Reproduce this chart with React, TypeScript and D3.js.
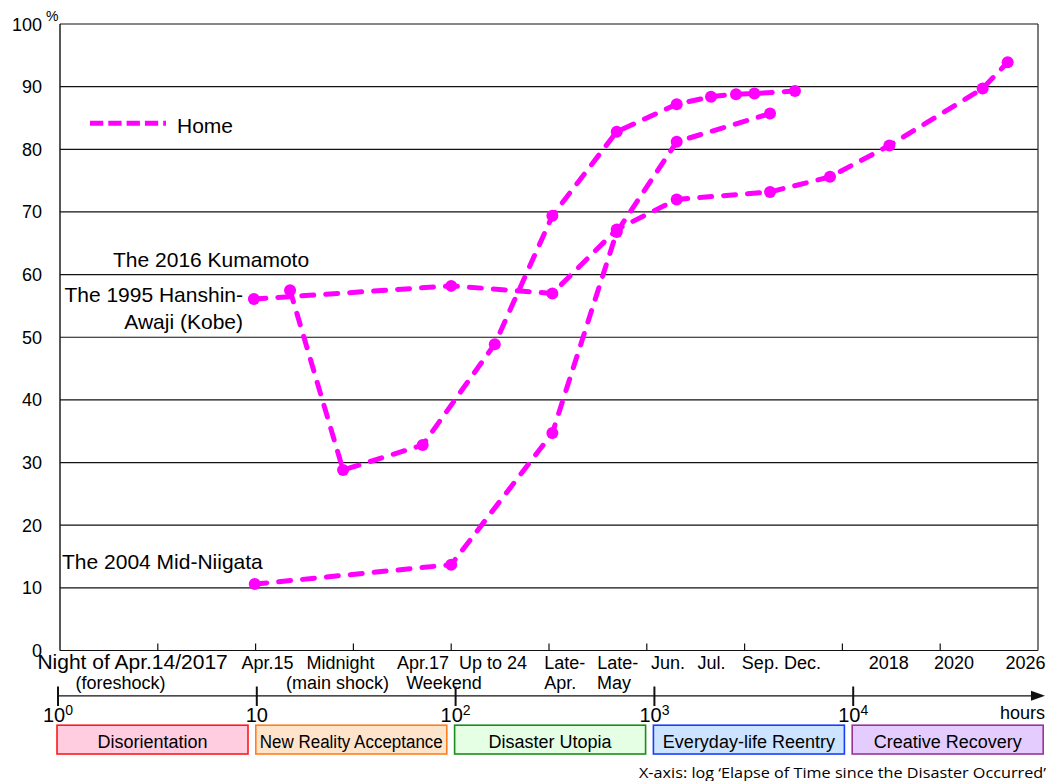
import React from "react";
import * as d3 from "d3";

// ---------- data ----------
const yTickValues = [0, 10, 20, 30, 40, 50, 60, 70, 80, 90, 100];

// hours since the disaster (x, log) and % living at home (y)
const kumamotoHours = [15, 28, 71.5, 167, 329, 702, 1422, 2129, 2858, 3548, 5723];
const kumamotoHome = [57.5, 28.8, 32.8, 48.9, 69.4, 82.8, 87.2, 88.4, 88.8, 88.9, 89.3];

const hanshinHours = [9.8, 100, 329, 702, 1422, 4266, 8642, 17378, 52130, 69980];
const hanshinHome = [56.1, 58.2, 57.0, 67.2, 72.0, 73.2, 75.6, 80.6, 89.7, 93.9];

const niigataHours = [9.9, 100, 329, 702, 1422, 4266];
const niigataHome = [10.6, 13.7, 34.7, 66.8, 81.2, 85.7];

// time labels under the plot: [text, hours at label centre, row]
const timeLabels: [string, number, number][] = [
  ["(foreshock)", 2.04, 1],
  ["Apr.15", 11.5, 0],
  ["Midnight", 27.2, 0],
  ["(main shock)", 26.2, 1],
  ["Apr.17", 71.8, 0],
  ["Weekend", 91.9, 1],
  ["Up to 24", 163.6, 0],
  ["Late-", 381, 0],
  ["Apr.", 361, 1],
  ["Late-", 710, 0],
  ["May", 680, 1],
  ["Jun.", 1283, 0],
  ["Jul.", 2142, 0],
  ["Sep.", 3808, 0],
  ["Dec.", 6255, 0],
  ["2018", 17270, 0],
  ["2020", 37200, 0],
  ["2026", 86300, 0],
];
const foreshockLabel: [string, number] = ["Night of Apr.14/2017", 2.35];

const decadeExponents = [0, 1, 2, 3, 4];
const phaseLabels = [
  "Disorientation",
  "New Reality Acceptance",
  "Disaster Utopia",
  "Everyday-life Reentry",
  "Creative Recovery",
];

// ---------- styles ----------
const phaseStroke = ["#ff1a1a", "#ff7f1e", "#1a8c1a", "#1a3cff", "#993399"];
const phaseFill = ["#ffcce0", "#ffe4cc", "#e4ffe4", "#cce4ff", "#e4ccff"];
const MAGENTA = "#ff00ff";
const FONT = "'Liberation Sans', Arial, sans-serif";

const W = 1050;
const H = 781;
const PL = 60;
const PR = 1038;
const PT = 24;
const PB = 650.5;

export default function App() {
  const x = d3.scaleLog().domain([1, 1e5]).range([PL, PR]);
  const y = d3.scaleLinear().domain([0, 100]).range([PB, PT]);
  const xLow = d3.scaleLog().domain([1, 1e5]).range([58, 1052]);

  const line = d3
    .line<[number, number]>()
    .x((d) => x(d[0]))
    .y((d) => y(d[1]));

  const series = [
    d3.zip(kumamotoHours, kumamotoHome) as [number, number][],
    d3.zip(hanshinHours, hanshinHome) as [number, number][],
    d3.zip(niigataHours, niigataHome) as [number, number][],
  ];

  const halfDecades = d3.range(1, 10).map((k) => Math.pow(10, k / 2));
  const axisY = 695.8;

  return (
    <svg
      width={W}
      height={H}
      viewBox={`0 0 ${W} ${H}`}
      style={{ position: "absolute", left: 0, top: 0, background: "#fff" }}
      fontFamily={FONT}
    >
      <rect x={0} y={0} width={W} height={H} fill="#fff" />

      {/* grid */}
      {yTickValues.map((v) => (
        <line key={"g" + v} x1={PL} x2={PR} y1={y(v)} y2={y(v)} stroke="#111" strokeWidth={1.2} />
      ))}
      <line x1={PL} x2={PL} y1={PT} y2={PB} stroke="#111" strokeWidth={1.4} />
      <line x1={PR} x2={PR} y1={PT} y2={PB} stroke="#444" strokeWidth={1.4} />
      {halfDecades.map((h) => (
        <line key={"t" + h} x1={x(h)} x2={x(h)} y1={PB} y2={PB - 7} stroke="#111" strokeWidth={1.2} />
      ))}

      {/* y labels */}
      {yTickValues.map((v) => (
        <text key={"yl" + v} x={42} y={y(v) + 6.5} fontSize={18} textAnchor="end" fill="#000">
          {v}
        </text>
      ))}
      <text x={46} y={21} fontSize={14} fill="#000">%</text>

      {/* series */}
      {series.map((s, i) => (
        <g key={"s" + i}>
          <path
            d={line(s) || ""}
            fill="none"
            stroke={MAGENTA}
            strokeWidth={5}
            strokeDasharray="12,12"
            strokeLinecap="round"
          />
          {s.map((d, j) => (
            <circle key={j} cx={x(d[0])} cy={y(d[1])} r={6} fill={MAGENTA} />
          ))}
        </g>
      ))}

      {/* legend */}
      <line x1={90} x2={166} y1={123.3} y2={123.3} stroke={MAGENTA} strokeWidth={5} strokeDasharray="13.3,5" />
      <text x={177} y={133} fontSize={21} fill="#000">Home</text>

      {/* annotations */}
      <text x={113} y={267} fontSize={21} fill="#000">The 2016 Kumamoto</text>
      <text x={243} y={302} fontSize={21} textAnchor="end" fill="#000">The 1995 Hanshin-</text>
      <text x={243} y={329} fontSize={21} textAnchor="end" fill="#000">Awaji (Kobe)</text>
      <text x={62} y={569} fontSize={21} fill="#000">The 2004 Mid-Niigata</text>

      {/* time labels */}
      <text x={x(foreshockLabel[1])} y={668.7} fontSize={21} textAnchor="middle" fill="#000">
        {foreshockLabel[0]}
      </text>
      {timeLabels.map(([t, h, row], i) => (
        <text key={"tl" + i} x={x(h)} y={row === 0 ? 668.7 : 689} fontSize={18} textAnchor="middle" fill="#000">
          {t}
        </text>
      ))}

      {/* lower log axis */}
      <line x1={58} x2={1036} y1={axisY} y2={axisY} stroke="#111" strokeWidth={1.3} />
      <path d={`M1045,${axisY} L1031,${axisY - 5} L1031,${axisY + 5} Z`} fill="#111" />
      {decadeExponents.map((e) => (
        <g key={"d" + e}>
          <line
            x1={xLow(Math.pow(10, e))}
            x2={xLow(Math.pow(10, e))}
            y1={686.5}
            y2={706}
            stroke="#111"
            strokeWidth={2}
          />
          <text x={xLow(Math.pow(10, e))} y={722} fontSize={20} textAnchor="middle" fill="#000">
            <tspan>10</tspan>
            {e !== 1 && (
              <tspan dy={-7} fontSize={14}>
                {e}
              </tspan>
            )}
          </text>
        </g>
      ))}
      <text x={1045} y={719.3} fontSize={18} textAnchor="end" fill="#000">hours</text>

      {/* phases */}
      {phaseLabels.map((p, i) => {
        const x0 = xLow(Math.pow(10, i)) - 1;
        const w = 191;
        return (
          <g key={"p" + i}>
            <rect x={x0} y={725.2} width={w} height={28.8} fill={phaseFill[i]} stroke={phaseStroke[i]} strokeWidth={1.6} />
            <text
              x={x0 + w / 2}
              y={747.5}
              fontSize={18}
              textAnchor="middle"
              fill="#000"
              {...(i === 1 ? { textLength: 183, lengthAdjust: "spacingAndGlyphs" } : {})}
            >
              {p}
            </text>
          </g>
        );
      })}

      <text
        x={1046}
        y={778}
        fontSize={15}
        textAnchor="end"
        fill="#000"
        fontFamily="'Open Sans', 'Noto Sans', sans-serif"
        textLength={407}
        lengthAdjust="spacingAndGlyphs"
      >
        X-axis: log ‘Elapse of Time since the Disaster Occurred’
      </text>
    </svg>
  );
}
